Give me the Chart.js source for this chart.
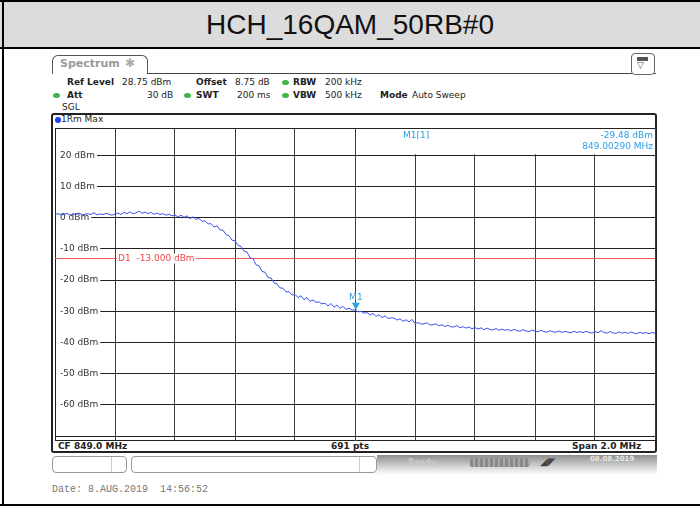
<!DOCTYPE html>
<html>
<head>
<meta charset="utf-8">
<script src="https://cdn.jsdelivr.net/npm/chart.js@4.4.0/dist/chart.umd.min.js"></script>
<style>
body{margin:0;width:700px;height:508px;overflow:hidden;background:#fff;font-family:"DejaVu Sans",sans-serif;position:relative}
.abs{position:absolute}
.t{position:absolute;font-size:9px;line-height:11px;color:#222;white-space:pre}
.b{font-weight:bold}
.dot{position:absolute;width:7px;height:5px;border-radius:50%;background:#3fb24a}
</style>
</head>
<body>
<!-- outer table -->
<div class="abs" style="left:0;top:0;width:700px;height:2px;background:#000"></div>
<div class="abs" style="left:0;top:2px;width:700px;height:45px;background:#dcdcdc"></div>
<div class="abs" style="left:0;top:47px;width:700px;height:2px;background:#000"></div>
<div class="abs" style="left:2px;top:0;width:2px;height:506px;background:#000"></div>
<div class="abs" style="left:0;top:504px;width:700px;height:2px;background:#000"></div>
<div class="abs" style="left:0;top:2px;width:700px;height:45px;line-height:45px;text-align:center;font-family:'Liberation Sans',Arial,sans-serif;font-size:28px;color:#111">HCH_16QAM_50RB#0</div>

<!-- analyzer header -->
<div class="abs" style="left:52px;top:55px;width:94px;height:18px;border:1px solid #555;border-bottom:none;border-radius:6px 6px 0 0;background:#fff"></div>
<div class="t b" style="left:60px;top:57px;font-size:11px;line-height:13px;color:#999">Spectrum</div>
<div class="t" style="left:125px;top:56px;font-size:12px;line-height:14px;color:#aaa">✱</div>
<div class="abs" style="left:147px;top:73px;width:509px;height:1px;background:#444"></div>
<div class="abs" style="left:631px;top:53px;width:22px;height:20px;border:1px solid #666;border-radius:4px;background:#fff"></div>
<div class="abs" style="left:637px;top:57px;width:11px;height:4px;background:#555"></div>
<div class="t" style="left:637px;top:60px;font-size:9px;color:#555">▽</div>

<div class="t b" style="left:67px;top:77px">Ref Level</div>
<div class="t" style="left:122px;top:77px">28.75 dBm</div>
<div class="t b" style="left:196px;top:77px">Offset</div>
<div class="t" style="left:235px;top:77px">8.75 dB</div>
<div class="dot" style="left:282px;top:80px"></div>
<div class="t b" style="left:293px;top:77px">RBW</div>
<div class="t" style="left:325px;top:77px">200 kHz</div>

<div class="dot" style="left:53px;top:93px"></div>
<div class="t b" style="left:67px;top:90px">Att</div>
<div class="t" style="left:147px;top:90px">30 dB</div>
<div class="dot" style="left:184px;top:93px"></div>
<div class="t b" style="left:196px;top:90px">SWT</div>
<div class="t" style="left:237px;top:90px">200 ms</div>
<div class="dot" style="left:282px;top:93px"></div>
<div class="t b" style="left:293px;top:90px">VBW</div>
<div class="t" style="left:325px;top:90px">500 kHz</div>
<div class="t b" style="left:380px;top:90px">Mode</div>
<div class="t" style="left:412px;top:90px">Auto Sweep</div>
<div class="t" style="left:62px;top:102px">SGL</div>

<!-- plot frame -->
<div class="abs" style="left:51px;top:113px;width:606px;height:340px;box-sizing:border-box;border:2px solid #222;border-radius:3px;background:#fff"></div>
<div class="abs" style="left:55px;top:117px;width:6px;height:6px;border-radius:50%;background:#1b3fe6"></div>
<div class="t" style="left:61px;top:114px">1Rm Max</div>
<div class="t b" style="left:58px;top:441px">CF 849.0 MHz</div>
<div class="t b" style="left:331px;top:441px">691 pts</div>
<div class="t b" style="left:572px;top:441px">Span 2.0 MHz</div>

<canvas id="SpecCanvas" width="606" height="318" class="abs" style="left:52px;top:125px"></canvas>

<!-- status bar -->
<div class="abs" style="left:52px;top:456px;width:73px;height:15px;border:1px solid #999;border-radius:4px"></div>
<div class="abs" style="left:111px;top:457px;width:1px;height:15px;background:#ccc"></div>
<div class="abs" style="left:131px;top:456px;width:244px;height:15px;border:1px solid #999;border-radius:4px"></div>
<div class="abs" style="left:359px;top:457px;width:1px;height:15px;background:#ccc"></div>
<div class="abs" style="left:377px;top:455px;width:280px;height:20px;background:linear-gradient(to bottom,#8e8e8e,#d6d6d6 60%,#fff)"></div>
<div class="t b" style="left:408px;top:457px;font-size:8px;color:#c8c8c8">Ready</div>
<div class="abs" style="left:470px;top:458px;width:60px;height:9px;background:repeating-linear-gradient(to right,#8a8a8a 0 3px,#a8a8a8 3px 5px);border-radius:2px"></div>
<div class="t b" style="left:540px;top:456px;font-size:10px;color:#444">◢◤</div>
<div class="t b" style="left:590px;top:455px;font-size:7px;line-height:8px;color:#e8e8e8">08.08.2019</div>

<div class="t" style="left:52px;top:484px;font-family:'Liberation Mono',monospace;font-size:10px;line-height:12px;color:#777">Date: 8.AUG.2019  14:56:52</div>

<script>
//  sweep settings
const START_MHZ=848.0
const STEP_MHZ=0.01
const Y_MIN=-71.25, Y_MAX=28.75
const Y_TICKS=[-70,-60,-50,-40,-30,-20,-10,0,10,20]
const X_GRID=[848.0,848.2,848.4,848.6,848.8,849.0,849.2,849.4,849.6,849.8,850.0]

//  trace levels (dBm), one value every 10 kHz
const traceLevels=[
1.0,1.3,0.9,1.1,1.4,0.8,1.2,1.0,1.5,0.9,
1.1,1.3,1.0,1.6,0.9,1.2,1.0,1.4,1.1,0.8,
1.2,1.5,1.0,1.7,1.3,1.9,1.2,1.6,2.1,1.4,
1.8,1.3,1.7,1.1,1.5,1.0,1.3,0.8,1.1,0.6,
0.9,0.2,0.8,0.1,0.6,-0.3,0.3,-0.6,-0.2,-1.2,
-1.0,-2.0,-1.9,-3.0,-2.6,-3.9,-4.0,-5.4,-5.8,-7.2,
-7.4,-8.9,-9.2,-10.7,-11.0,-12.9,-13.1,-15.1,-15.4,-17.2,
-17.5,-19.2,-19.3,-20.9,-21.2,-22.5,-22.6,-23.8,-23.7,-24.8,
-24.6,-25.6,-25.0,-26.3,-25.6,-26.8,-26.4,-27.1,-27.0,-27.6,
-27.4,-28.3,-27.5,-28.7,-28.0,-29.1,-28.4,-29.4,-29.0,-29.6,
-29.5,-30.2,-30.0,-30.6,-30.4,-31.2,-30.7,-31.6,-31.1,-32.0,
-31.5,-32.3,-32.1,-32.2,-32.8,-32.4,-33.2,-32.7,-33.4,-32.6,
-33.9,-33.6,-34.1,-34.0,-33.7,-34.4,-34.3,-34.0,-34.7,-34.3,
-34.9,-34.5,-35.0,-35.0,-34.6,-35.3,-34.9,-35.4,-35.0,-35.6,
-35.2,-35.7,-35.3,-35.9,-35.4,-35.8,-36.0,-35.5,-36.1,-35.7,
-36.1,-35.8,-36.3,-35.8,-36.2,-36.4,-35.9,-36.3,-36.5,-36.0,
-36.4,-36.6,-36.1,-36.5,-36.7,-36.2,-36.6,-36.7,-36.3,-36.8,
-36.4,-36.7,-36.9,-36.4,-36.8,-36.5,-36.9,-36.4,-36.8,-37.0,
-36.5,-36.9,-36.2,-36.8,-37.0,-36.5,-36.9,-37.1,-36.6,-37.0,
-36.7,-37.1,-36.6,-37.0,-37.2,-36.7,-37.1,-36.8,-37.2,-36.8,
-37.0]

//  display line and marker
const D1_LEVEL=-13.0
const D1_LABEL='D1  -13.000 dBm'
const M1_FREQ=849.0029
const M1_LEVEL=-29.48
const M1_TEXT=['M1[1]','-29.48 dBm','849.00290 MHz']

const tracePoints=traceLevels.map((v,i)=>({x:+(START_MHZ+i*STEP_MHZ).toFixed(2),y:v}))

const BLUE_M='#2a9fe4'
const FONT='9px "DejaVu Sans"'

const overlayPlugin={
	id:'overlay',
	beforeDatasetsDraw(chart){
		const {ctx,chartArea:a,scales:{x,y}}=chart
		ctx.save()
		// marker info box
		const bx=x.getPixelForValue(849.0)+1
		ctx.fillStyle='#fff'
		ctx.fillRect(bx,a.top,a.right-bx-1,y.getPixelForValue(20)-a.top-1)
		ctx.strokeStyle='#222';ctx.lineWidth=1
		ctx.beginPath();ctx.moveTo(a.left,a.top+0.5);ctx.lineTo(a.right,a.top+0.5);ctx.stroke()
		ctx.font=FONT;ctx.fillStyle=BLUE_M;ctx.textBaseline='middle'
		ctx.textAlign='left';ctx.fillText(M1_TEXT[0],x.getPixelForValue(849.16),a.top+8)
		ctx.textAlign='right';ctx.fillText(M1_TEXT[1],a.right-2,a.top+8)
		ctx.fillText(M1_TEXT[2],a.right-2,a.top+19)
		// display line D1
		const dy=Math.round(y.getPixelForValue(D1_LEVEL))+0.5
		ctx.strokeStyle='#f25a5a'
		ctx.beginPath();ctx.moveTo(a.left,dy);ctx.lineTo(a.right,dy);ctx.stroke()
		const lx=x.getPixelForValue(848.2)+2
		ctx.textAlign='left'
		const w=ctx.measureText(D1_LABEL).width
		ctx.fillStyle='#fff';ctx.fillRect(lx,dy-5,w+2,10)
		ctx.fillStyle='#f04848';ctx.fillText(D1_LABEL,lx+1,dy)
		ctx.restore()
	},
	afterDatasetsDraw(chart){
		const {ctx,scales:{x,y}}=chart
		const mx=x.getPixelForValue(M1_FREQ),my=y.getPixelForValue(M1_LEVEL)
		ctx.save()
		ctx.fillStyle=BLUE_M
		ctx.beginPath();ctx.moveTo(mx,my);ctx.lineTo(mx-4,my-7);ctx.lineTo(mx+4,my-7);ctx.closePath();ctx.fill()
		ctx.font=FONT;ctx.textAlign='center';ctx.textBaseline='middle'
		ctx.fillText('M1',mx,my-12)
		ctx.restore()
	}
}

let SpecChart=new Chart(document.getElementById('SpecCanvas'),{
	type:'line',
	data:{datasets:[{data:tracePoints,borderColor:'#3d52ee',borderWidth:1,pointRadius:0,tension:0}]},
	plugins:[overlayPlugin],
	options:{
		responsive:false,animation:false,devicePixelRatio:1,
		layout:{padding:{left:3,right:3,top:3,bottom:3}},
		plugins:{legend:{display:false},tooltip:{enabled:false}},
		scales:{
			x:{type:'linear',min:848,max:850,
				afterBuildTicks(s){s.ticks=X_GRID.map(v=>({value:v}))},
				afterFit(s){s.height=0;s.paddingLeft=0;s.paddingRight=0},
				ticks:{display:false},
				grid:{color:'#3a3a3a',drawTicks:false},border:{color:'#222'}},
			y:{type:'linear',min:Y_MIN,max:Y_MAX,
				afterBuildTicks(s){s.ticks=Y_TICKS.map(v=>({value:v}))},
				afterFit(s){s.width=0;s.paddingTop=0;s.paddingBottom=0},
				grid:{color:'#222',drawTicks:false},border:{color:'#222'},
				ticks:{mirror:true,padding:5,color:'#333',font:{family:'DejaVu Sans',size:9},
					showLabelBackdrop:true,
					backdropColor:c=>c.tick&&c.tick.value===-70?'rgba(0,0,0,0)':'#fff',
					backdropPadding:{left:4,right:2,top:0,bottom:0},
					callback:v=>v===-70?'':v+' dBm'}}
		}
	}
})
</script>
</body>
</html>
